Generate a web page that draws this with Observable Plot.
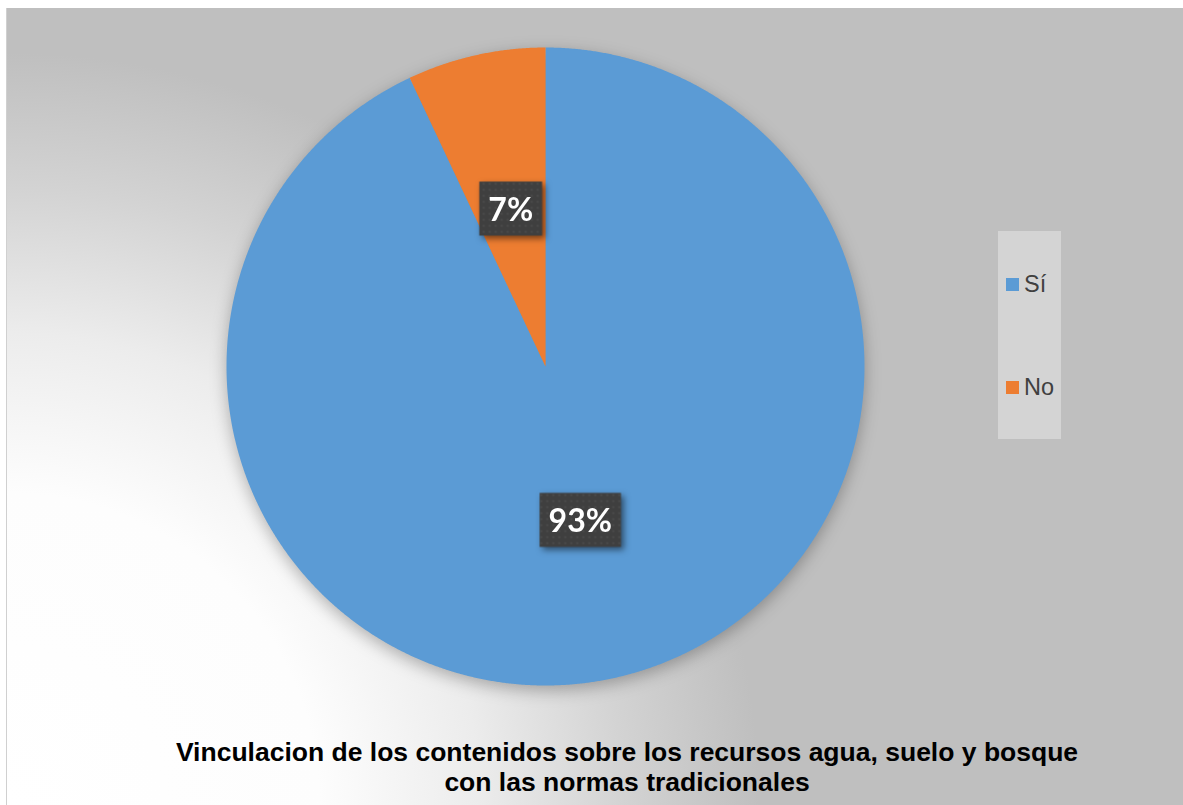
<!DOCTYPE html>
<html><head><meta charset="utf-8">
<script src="https://cdn.jsdelivr.net/npm/d3@7"></script>
<script src="https://cdn.jsdelivr.net/npm/@observablehq/plot@0.6"></script>
<style>
body{margin:0;background:#fff;width:1183px;height:805px;overflow:hidden;position:relative;font-family:"Liberation Sans",Arial,sans-serif}
#bg{position:absolute;left:6px;top:8px;right:0;bottom:0;background:radial-gradient(circle 800px at 0px 797px,#ffffff 0%,#fdfdfd 39%,#ececec 59%,#d3d3d3 77%,#bfbfbf 94%);border-left:1px solid #d0d0d0}
#chart{position:absolute;left:0;top:0}
#legend{position:absolute;left:998px;top:231px;width:63px;height:208px;background:#d4d4d4}
.item{position:absolute;left:8px;height:14px;display:flex;align-items:center;font-size:23.5px;color:#404040;white-space:nowrap}
.sw{width:13px;height:13px;margin-right:5px;flex:none}
#title{position:absolute;left:127px;width:1000px;top:737px;text-align:center;font-weight:bold;font-size:26.5px;line-height:30px;color:#000}
</style></head>
<body>
<div id="bg"></div>
<div id="chart"></div>
<div id="legend"></div>
<div id="title"></div>
<script>
const categories = ["Sí", "No"];
const values = [93, 7];
const labels = ["93%", "7%"];
const colors = ["#5B9BD5", "#ED7D31"];
const titleLines = ["Vinculacion de los contenidos sobre los recursos agua, suelo y bosque", "con las normas tradicionales"];

const arcs = d3.pie().sort(null).value(d => d)(values);
const slicePts = [];
arcs.forEach((a, i) => {
  const n = Math.max(8, Math.ceil((a.endAngle - a.startAngle) / 0.004));
  slicePts.push({cat: categories[i], x: 0, y: 0});
  for (let k = 0; k <= n; k++) {
    const t = a.startAngle + (a.endAngle - a.startAngle) * k / n;
    slicePts.push({cat: categories[i], x: Math.sin(t), y: Math.cos(t)});
  }
});
const labelPts = arcs.map((a, i) => {
  const m = (a.startAngle + a.endAngle) / 2;
  return {label: labels[i], x: 0.5 * Math.sin(m), y: 0.5 * Math.cos(m)};
});

const svg = Plot.plot({
  width: 1183, height: 720,
  marginLeft: 226, marginRight: 319, marginTop: 47, marginBottom: 35,
  x: {domain: [-1, 1], axis: null},
  y: {domain: [-1, 1], axis: null},
  color: {domain: categories, range: colors},
  style: {background: "transparent", overflow: "visible"},
  marks: [
    Plot.line(slicePts, {x: "x", y: "y", fill: "cat", z: "cat", stroke: "none"}),
    Plot.text(labelPts, {x: "x", y: "y", text: "label", fill: "white", fontSize: 32, fontWeight: "bold", fontFamily: "Lato, 'Open Sans', sans-serif"})
  ]
});
document.getElementById("chart").append(svg);

// pie shadow
const lineG = svg.querySelector('g[aria-label="line"]');
if (lineG) lineG.style.filter = "drop-shadow(0px 5px 8px rgba(0,0,0,0.28))";

// label boxes
const ns = "http://www.w3.org/2000/svg";
const defs = document.createElementNS(ns, "defs");
defs.innerHTML = '<pattern id="dots" width="6" height="6" patternUnits="userSpaceOnUse"><rect width="6" height="6" fill="#3f3f3f"/><circle cx="3" cy="3" r="1.1" fill="#4e4e4e"/></pattern>';
svg.insertBefore(defs, svg.firstChild);
const textG = svg.querySelector('g[aria-label="text"]');
const boxG = document.createElementNS(ns, "g");
boxG.style.filter = "drop-shadow(3px 3px 3px rgba(0,0,0,0.5))";
textG.querySelectorAll("text").forEach(t => {
  const b = t.getBBox();
  const cy = b.y + b.height / 2;
  const r = document.createElementNS(ns, "rect");
  const tr = t.getAttribute("transform");
  if (tr) r.setAttribute("transform", tr);
  r.setAttribute("x", b.x - 9);
  r.setAttribute("width", b.width + 18);
  r.setAttribute("y", cy - 27);
  r.setAttribute("height", 54);
  r.setAttribute("fill", "url(#dots)");
  boxG.appendChild(r);
});
if (textG.getAttribute("transform")) boxG.setAttribute("transform", textG.getAttribute("transform"));
textG.parentNode.insertBefore(boxG, textG);

// legend
const leg = document.getElementById("legend");
const legendTops = [46, 149];
categories.forEach((c, i) => {
  const it = document.createElement("div");
  it.className = "item";
  it.style.top = (legendTops[i]) + "px";
  const sw = document.createElement("span");
  sw.className = "sw"; sw.style.background = colors[i];
  it.appendChild(sw);
  it.appendChild(document.createTextNode(c));
  leg.appendChild(it);
});

// title
document.getElementById("title").innerHTML = titleLines.join("<br>");
</script>
</body></html>
